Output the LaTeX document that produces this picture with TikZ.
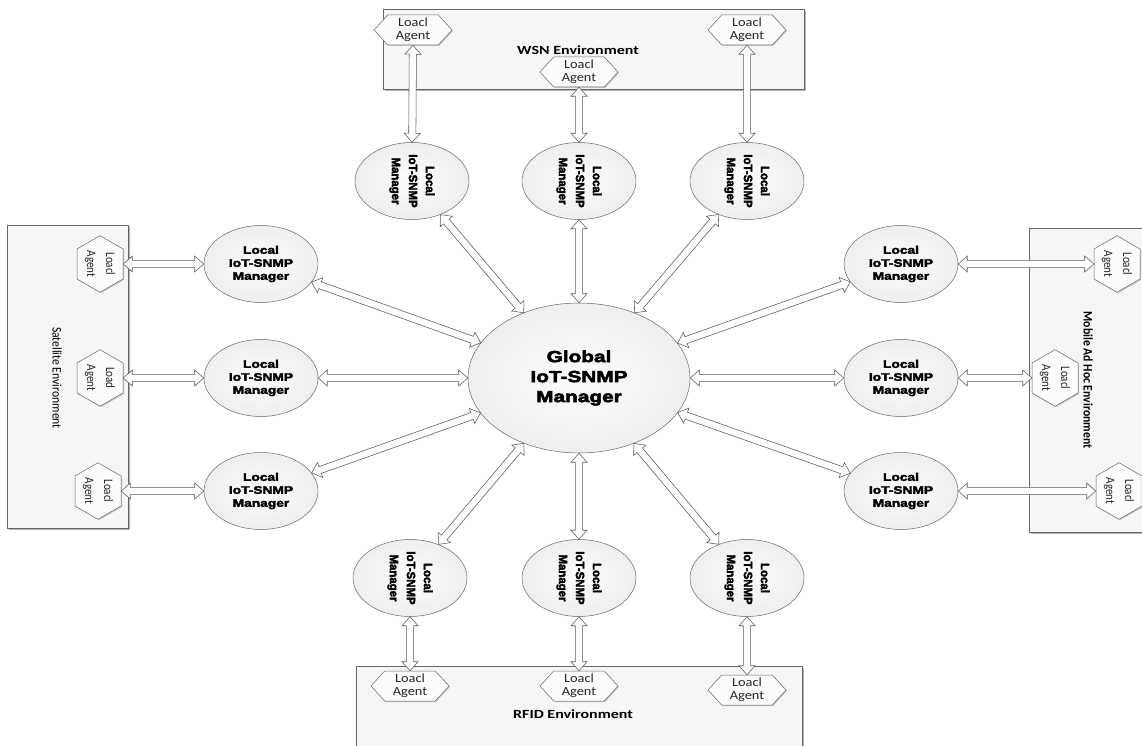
\documentclass[tikz,border=0pt]{standalone}
\usepackage{fontspec}
\usetikzlibrary{calc,shapes.geometric,shapes.symbols,shadows}

% Faces: Carlito for agents and environment names, a heavy sans for managers
\newfontfamily\agenthfont{Carlito}[FakeStretch=1.15]
\newfontfamily\agentvfont{Carlito}[FakeStretch=0.85]
\newfontfamily\envhfont{Carlito}[FakeStretch=1.28]
\newfontfamily\envvfont{Carlito}[FakeStretch=0.9]
\newfontfamily\heavyglobal{Liberation Sans}[FakeStretch=1.3, BoldFeatures={FakeBold=3.5}]
\newfontfamily\heavyh{Liberation Sans}[FakeStretch=1.25, BoldFeatures={FakeBold=3}]
\newfontfamily\heavyv{Liberation Sans}[FakeStretch=0.95, BoldFeatures={FakeBold=3}]

% Hollow double-headed arrow between the borders of two nodes
\def\arrhead{9pt}
\def\arrhalf{8pt}
\def\arrshaft{3.6pt}
\newcommand\duplex[2]{%
  \pgfcoordinate{ea}{\pgfpointshapeborder{#1}{\pgfpointanchor{#2}{center}}}%
  \pgfcoordinate{eb}{\pgfpointshapeborder{#2}{\pgfpointanchor{#1}{center}}}%
  \path ($(ea)!\arrhead!(eb)$) coordinate (ka) ($(eb)!\arrhead!(ea)$) coordinate (kb);
  \draw[link] (ea) -- ($(ka)!\arrhalf!90:(eb)$) -- ($(ka)!\arrshaft!90:(eb)$)
    -- ($(kb)!\arrshaft!-90:(ea)$) -- ($(kb)!\arrhalf!-90:(ea)$) -- (eb)
    -- ($(kb)!\arrhalf!90:(ea)$) -- ($(kb)!\arrshaft!90:(ea)$)
    -- ($(ka)!\arrshaft!-90:(eb)$) -- ($(ka)!\arrhalf!-90:(eb)$) -- cycle;
}

\tikzset{
  boxshadow/.style={drop shadow={shadow xshift=1.6pt, shadow yshift=-1.6pt, opacity=0.55, fill=black!55}},
  envbox/.style={draw=black!60, fill=gray!7, line width=0.6pt, boxshadow},
  mgr/.style={ellipse, draw=black!60, line width=0.5pt, inner color=gray!2, outer color=gray!13,
    minimum width=114pt, minimum height=77pt, inner sep=0pt},
  glob/.style={mgr, minimum width=222pt, minimum height=150pt},
  agenth/.style={signal, signal to=east and west, signal pointer angle=95, draw=black!60,
    fill=gray!2, line width=0.5pt, minimum width=78pt, minimum height=30pt, inner sep=0pt,
    drop shadow={shadow xshift=1pt, shadow yshift=-1pt, opacity=0.4}},
  agentv/.style={signal, signal to=north and south, signal pointer angle=120, draw=black!60,
    fill=gray!2, line width=0.5pt, minimum width=46pt, minimum height=30pt, inner sep=0pt,
    drop shadow={shadow xshift=1pt, shadow yshift=-1pt, opacity=0.4}},
  globtext/.style={align=center, font=\heavyglobal\bfseries\fontsize{16}{20}\selectfont},
  mgrhtext/.style={align=center, font=\heavyh\bfseries\fontsize{11}{13}\selectfont},
  mgrvtext/.style={align=center, rotate=-90, font=\heavyv\bfseries\fontsize{12}{17}\selectfont},
  agenthtext/.style={align=center, font=\agenthfont\fontsize{12.5}{13}\selectfont, text=black!85},
  agentvtext/.style={align=center, rotate=-90, font=\agentvfont\fontsize{13}{19}\selectfont, text=black!85},
  envlabel/.style={font=\envhfont\bfseries\fontsize{12.5}{14}\selectfont},
  envlabelv/.style={rotate=-90, font=\envvfont\fontsize{13}{14}\selectfont},
  link/.style={draw=black!65, fill=white, line width=0.55pt, line join=miter},
}

\begin{document}
\begin{tikzpicture}[x=1pt, y=-1pt]
\useasboundingbox (0,0) rectangle (1142,746);
\clip (0,0) rectangle (1142,746);

% environment boxes
\draw[envbox] (383,9) rectangle (804,89);
\draw[envbox] (356,666) rectangle (802,770);
\draw[envbox] (7,225) rectangle (128,528);
\draw[envbox] (1029,228) rectangle (1170,532);

\node[envlabel] (wsnlabel) at (578,50) {WSN Environment};
\node[envlabel] (rfidlabel) at (573,714) {RFID Environment};
\node[envlabelv] (satlabel) at (57,378) {Satellite Environment};
\node[envlabelv, font=\envvfont\bfseries\fontsize{13}{14}\selectfont] (manetlabel) at (1088,380) {Mobile Ad Hoc Environment};

% agents
\node[agenth, label={[agenthtext]center:{Loacl\\Agent}}] (at1) at (413,30) {};
\node[agenth, label={[agenthtext]center:{Loacl\\Agent}}] (at2) at (579,72) {};
\node[agenth, label={[agenthtext]center:{Loacl\\Agent}}] (at3) at (747,30) {};
\node[agenth, label={[agenthtext]center:{Loacl\\Agent}}] (ab1) at (410,686) {};
\node[agenth, label={[agenthtext]center:{Loacl\\Agent}}] (ab2) at (579,686) {};
\node[agenth, label={[agenthtext]center:{Loacl\\Agent}}] (ab3) at (747,690) {};
\node[agentv, label={[agentvtext]center:{Loacl\\Agent}}] (al1) at (100,264) {};
\node[agentv, label={[agentvtext]center:{Load\\Agent}}] (al2) at (100,378) {};
\node[agentv, label={[agentvtext]center:{Loacl\\Agent}}] (al3) at (98,491) {};
\node[agentv, label={[agentvtext]center:{Loacl\\Agent}}] (ar1) at (1117,264) {};
\node[agentv, label={[agentvtext]center:{Loacl\\Agent}}] (ar2) at (1055,378) {};
\node[agentv, label={[agentvtext]center:{Loacl\\Agent}}] (ar3) at (1119,491) {};

% managers
\node[glob, label={[globtext]center:{Global\\IoT-SNMP\\Manager}}] (g) at (579,378) {};
\node[mgr, label={[mgrvtext]center:{Local\\IoT-SNMP\\Manager}}] (mt1) at (412,181) {};
\node[mgr, label={[mgrvtext]center:{Local\\IoT-SNMP\\Manager}}] (mt2) at (579,181) {};
\node[mgr, label={[mgrvtext]center:{Local\\IoT-SNMP\\Manager}}] (mt3) at (747,181) {};
\node[mgr, label={[mgrvtext]center:{Local\\IoT-SNMP\\Manager}}] (mb1) at (410,578) {};
\node[mgr, label={[mgrvtext]center:{Local\\IoT-SNMP\\Manager}}] (mb2) at (579,578) {};
\node[mgr, label={[mgrvtext]center:{Local\\IoT-SNMP\\Manager}}] (mb3) at (747,578) {};
\node[mgr, label={[mgrhtext]center:{Local\\IoT-SNMP\\Manager}}] (ml1) at (261,264) {};
\node[mgr, label={[mgrhtext]center:{Local\\IoT-SNMP\\Manager}}] (ml2) at (261,378) {};
\node[mgr, label={[mgrhtext]center:{Local\\IoT-SNMP\\Manager}}] (ml3) at (261,491) {};
\node[mgr, label={[mgrhtext]center:{Local\\IoT-SNMP\\Manager}}] (mr1) at (901,264) {};
\node[mgr, label={[mgrhtext]center:{Local\\IoT-SNMP\\Manager}}] (mr2) at (901,378) {};
\node[mgr, label={[mgrhtext]center:{Local\\IoT-SNMP\\Manager}}] (mr3) at (901,491) {};

% links global <-> local managers
\foreach \m in {mt1,mt2,mt3,mb1,mb2,mb3,ml1,ml2,ml3,mr1,mr2,mr3} {\duplex{g}{\m}}

% links local managers <-> agents
\duplex{mt1}{at1} \duplex{mt2}{at2} \duplex{mt3}{at3}
\duplex{mb1}{ab1} \duplex{mb2}{ab2} \duplex{mb3}{ab3}
\duplex{ml1}{al1} \duplex{ml2}{al2} \duplex{ml3}{al3}
\duplex{mr1}{ar1} \duplex{mr2}{ar2} \duplex{mr3}{ar3}
\end{tikzpicture}
\end{document}
